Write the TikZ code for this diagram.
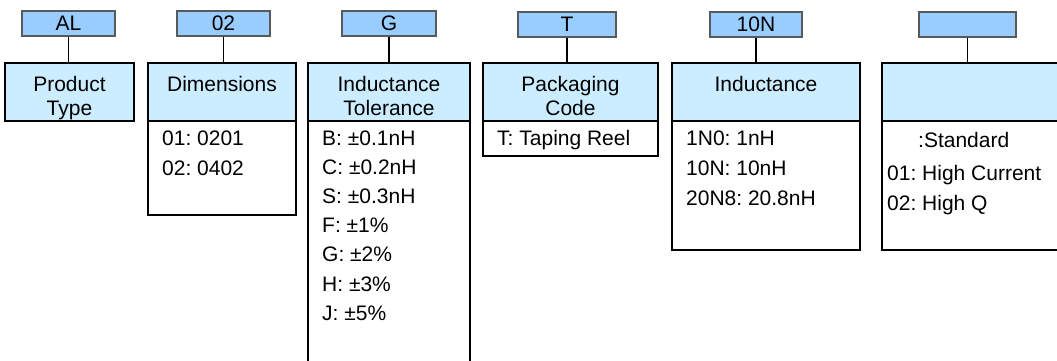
\documentclass[tikz,border=0pt]{standalone}
\usepackage{fontspec}
\setmainfont{Liberation Sans}
\usepackage{xcolor}
\definecolor{codeblue}{RGB}{153,204,255}
\definecolor{headblue}{RGB}{204,236,255}
\newcommand{\twolines}[2]{\begin{tabular}[t]{@{}c@{}}#1\\#2\end{tabular}}
\frenchspacing

\begin{document}
\begin{tikzpicture}[x=1pt,y=-1pt,
  txt/.style={font=\fontsize{21}{24}\selectfont},
  codebox/.style={txt,draw=black!65,line width=1.3pt,fill=codeblue,minimum height=25pt,inner sep=0pt},
  headbox/.style={txt,draw,line width=2pt,fill=headblue,inner sep=0pt,text height=28pt,text depth=30pt},
  item/.style={txt,anchor=base west,inner sep=0pt}]
\clip (0,0) rectangle (1057,360);

%code boxes
\node[codebox,minimum width=93pt] (cAL)  at (68.5,23.5)  {AL};
\node[codebox,minimum width=93pt] (cDim) at (223.5,23.5) {02};
\node[codebox,minimum width=94pt] (cTol) at (389,23.5)   {G};
\node[codebox,minimum width=98pt] (cPkg) at (567,24.5)   {T};
\node[codebox,minimum width=92pt] (cInd) at (756,24.5)   {10N};
\node[codebox,minimum width=97pt] (cOpt) at (967.5,24.5) {};

%connectors
\draw[line width=1.5pt] (cAL.south)  -- (cAL.south  |- 0,62);
\draw[line width=1.5pt] (cDim.south) -- (cDim.south |- 0,62);
\draw[line width=1.5pt] (cTol.south) -- (cTol.south |- 0,62);
\draw[line width=1.5pt] (cPkg.south) -- (cPkg.south |- 0,62);
\draw[line width=1.5pt] (cInd.south) -- (cInd.south |- 0,62);
\draw[line width=1.5pt] (cOpt.south) -- (cOpt.south |- 0,62);

%bodies
\draw[line width=2pt] (148,120) rectangle (296,215);  %dimensions
\draw[line width=2pt] (308,120) rectangle (470,370);  %tolerance
\draw[line width=2pt] (483,120) rectangle (658,156);  %packaging
\draw[line width=2pt] (672,120) rectangle (860,250);  %inductance
\draw[line width=2pt] (882,120) rectangle (1070,250); %option

%headers
\node[headbox,anchor=north,minimum width=129pt] (hType) at (69.5,62)  {\twolines{Product}{Type}};
\node[headbox,anchor=north,minimum width=148pt] (hDim)  at (222,62)   {Dimensions};
\node[headbox,anchor=north,minimum width=162pt] (hTol)  at (389,62)   {\twolines{Inductance}{Tolerance}};
\node[headbox,anchor=north,minimum width=175pt] (hPkg)  at (570.5,62) {\twolines{Packaging}{Code}};
\node[headbox,anchor=north,minimum width=188pt] (hInd)  at (766,62)   {Inductance};
\node[headbox,anchor=north,minimum width=188pt] (hOpt)  at (976,62)   {};

%dimensions
\node[item] (d1) at (162,145.3) {01: 0201};
\node[item] (d2) at (162,175.3) {02: 0402};

%tolerance
\node[item] (t1) at (322,145)   {B: ±0.1nH};
\node[item] (t2) at (322,174.2) {C: ±0.2nH};
\node[item] (t3) at (322,203.4) {S: ±0.3nH};
\node[item] (t4) at (322,232.6) {F: ±1\%};
\node[item] (t5) at (322,261.8) {G: ±2\%};
\node[item] (t6) at (322,291)   {H: ±3\%};
\node[item] (t7) at (322,320.2) {J: ±5\%};

%packaging
\node[item] (p1) at (497,145) {T: Taping Reel};

%inductance
\node[item] (i1) at (686,145) {1N0: 1nH};
\node[item] (i2) at (686,175) {10N: 10nH};
\node[item] (i3) at (686,205) {20N8: 20.8nH};

%option
\node[item] (o1) at (918,147) {:Standard};
\node[item] (o2) at (887,180) {01: High Current};
\node[item] (o3) at (887,210) {02: High Q};

\end{tikzpicture}
\end{document}
